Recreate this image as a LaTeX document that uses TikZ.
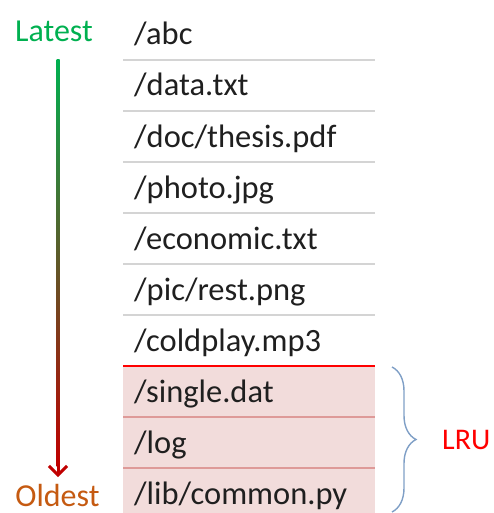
\documentclass[tikz,border=0pt]{standalone}
\usepackage{fontspec}
\setmainfont{Carlito}
\usetikzlibrary{arrows.meta,decorations.pathreplacing,calc}
\definecolor{latestgreen}{HTML}{00B050}
\definecolor{oldestbrown}{HTML}{C55A11}
\definecolor{arrowred}{HTML}{C00000}
\definecolor{lrured}{HTML}{FF0000}
\definecolor{rowgray}{HTML}{D4D4D4}
\definecolor{lrufill}{HTML}{F2DCDB}
\definecolor{lruline}{HTML}{DE9A98}
\definecolor{bracecol}{HTML}{7F9FC6}
\tikzset{
  x=1pt, y=1pt,
  labeltext/.style={font=\fontsize{32}{38}\selectfont, inner sep=0pt},
  entry/.style={font=\fontsize{32.5}{39}\selectfont, inner sep=0pt, anchor=base west, text=black!88},
  grayrule/.style={draw=rowgray, line width=1.3pt},
  pinkrule/.style={draw=lruline, line width=1.3pt},
  redrule/.style={draw=lrured, line width=1.8pt},
}
\begin{document}
\begin{tikzpicture}
\useasboundingbox (0,0) rectangle (493,-513);

% cache entries that are about to be evicted
\fill[lrufill] (123,-366) rectangle (375,-513);

% separators between entries
\foreach \k in {0,...,5}
  \draw[grayrule] (123,{-60-51*\k}) -- (375,{-60-51*\k});
\draw[pinkrule] (123,-417) -- (375,-417);
\draw[pinkrule] (123,-468) -- (375,-468);
\draw[redrule] (123,-366) -- (375,-366);

% file names, newest first
\foreach \name [count=\i from 0] in {/abc,/data.txt,/doc/thesis.pdf,/photo.jpg,/economic.txt,/pic/rest.png,/coldplay.mp3,/single.dat,/log,/lib/common.py}
  \node[entry] (f\i) at (134,{-45-51*\i}) {\name};

% age axis
\node[labeltext, anchor=base, text=latestgreen] (latest) at (54,-42) {Latest};
\node[labeltext, anchor=base, text=oldestbrown] (oldest) at (57.5,-506) {Oldest};
\coordinate (axtop) at (58,-60);
\coordinate (axbot) at (58,-466);
\coordinate (axtip) at (58,-477);
\shade[top color=latestgreen, bottom color=arrowred]
  ($(axtop)+(-1.5,0)$) rectangle ($(axbot)+(1.5,0)$);
\draw[arrowred, line width=3pt, -{Straight Barb[length=9pt,width=18pt]}] (axbot) -- (axtip);

% LRU group
\coordinate (bracetop) at (392,-367);
\coordinate (bracebot) at (392,-512);
\draw[bracecol, line width=1.4pt,
  decorate, decoration={brace, amplitude=24pt, aspect=0.5}]
  (bracetop) -- (bracebot);
\node[font=\fontsize{30}{36}\selectfont, inner sep=0pt, anchor=base west, text=lrured] (lru) at (442,-449) {LRU};
\end{tikzpicture}
\end{document}
